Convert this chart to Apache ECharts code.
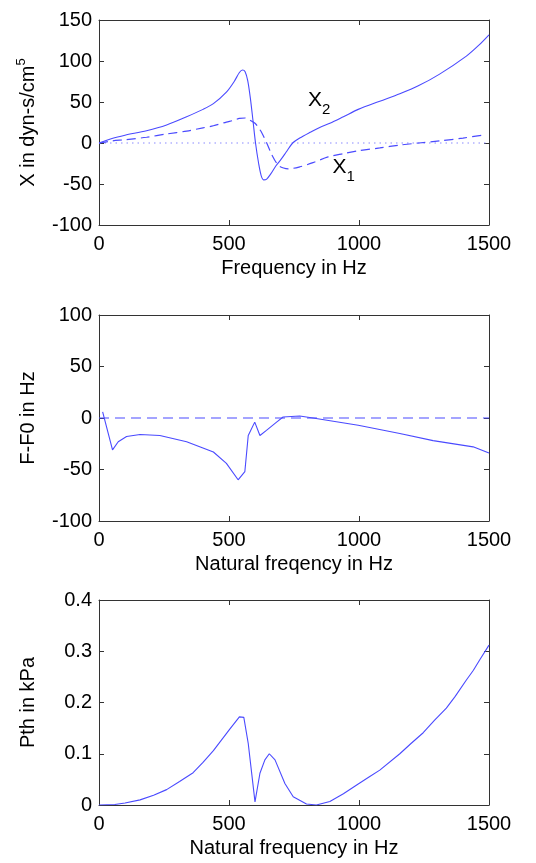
<!DOCTYPE html>
<html><head><meta charset="utf-8">
<script src="https://cdn.jsdelivr.net/npm/echarts@6/dist/echarts.min.js"></script>
<style>html,body{margin:0;padding:0;background:#fff}#c{width:536px;height:863px}</style>
</head><body><div id="c"></div>
<script>
// Panel 1: reactance X1 (dashed), X2 (solid) vs frequency
const freqX2 = [0,50,100,183,260,337,400,440,490,520,540,552,562,572,582,592,602,614,624,634,645,660,680,700,720,745,772,812,849,888,940,997,1080,1157,1230,1310,1413,1460,1500];
const valX2  = [0,5.5,9.5,15,22,32,41,48,62,75,86,89,87,76,55,28,0,-25,-40,-45,-44,-38,-28,-20,-11,0,6,13,19,24,32,41,51,60,70,84,106,119,132];
const freqX1 = [0,50,100,183,260,337,400,440,490,516,540,562,580,600,615,627,645,665,689,710,728,773,823,881,940,997,1080,1157,1230,1310,1400,1483];
const valX1  = [0,2.5,4,7,11,14.5,18.5,21,25.5,27.5,30,30.5,28,24,18,12,0,-14.5,-27,-30.5,-31.5,-29,-24,-17,-13,-9.5,-6,-2.5,0,2.5,6,10];
const zeroLine1 = [[0,0],[1500,0]];
// Panel 2: F-F0 vs natural frequency
const freqF = [14,52,74,106,158,234,337,440,490,535,561,574,599,619,644,683,708,772,823,997,1157,1285,1439,1500];
const valF  = [6,-31,-23,-18,-16,-17,-23,-33,-44,-60,-52,-17,-4,-17,-12,-4,1,2,0,-7,-15,-22,-28,-34];
const zeroLine2 = [[0,0],[1500,0]];
// Panel 3: Pth vs natural frequency
const freqP = [0,61,100,158,210,260,310,362,400,440,470,503,540,557,574,600,619,638,655,677,715,747,798,836,888,940,997,1040,1080,1157,1200,1247,1290,1336,1370,1413,1440,1464,1500];
const valP  = [0,0.001,0.004,0.01,0.019,0.03,0.046,0.063,0.083,0.106,0.126,0.148,0.172,0.171,0.12,0.006,0.062,0.088,0.1,0.088,0.042,0.016,0.002,0,0.007,0.022,0.041,0.055,0.068,0.1,0.12,0.141,0.165,0.189,0.212,0.244,0.263,0.283,0.312];

const pairs = (xs, ys) => xs.map((x,i)=>[x, ys[i]]);
const FONT = "'Liberation Sans', Arial, sans-serif";
const BLUE = '#4a4aff';
const AX = '#333';

const grids = [
  {left:99, top:20, width:390, height:205},
  {left:99, top:315, width:390, height:206},
  {left:99, top:600, width:390, height:205}
];
const xNames = ['Frequency in Hz','Natural freqency in Hz','Natural frequency in Hz'];
const yCfg = [
  {min:-100,max:150,interval:50,name:'X in dyn-s/cm{sup|5}'},
  {min:-100,max:100,interval:50,name:'F-F0 in Hz'},
  {min:0,max:0.4,interval:0.1,name:'Pth in kPa'}
];
const plain = v => String(v);

const xAxis = [], yAxis = [];
grids.forEach((g,i)=>{
  xAxis.push({type:'value', gridIndex:i, min:0, max:1500, interval:500, position:'bottom',
    axisLine:{show:true,onZero:false,lineStyle:{color:AX,width:1}},
    axisTick:{show:true,inside:true,length:5,lineStyle:{color:AX}},
    axisLabel:{color:'#000',fontSize:20,fontFamily:FONT,margin:9,formatter:plain},
    splitLine:{show:false},
    name:xNames[i], nameLocation:'middle', nameGap:33,
    nameTextStyle:{color:'#000',fontSize:20,fontFamily:FONT}});
  xAxis.push({type:'value', gridIndex:i, min:0, max:1500, interval:500, position:'top',
    axisLine:{show:true,onZero:false,lineStyle:{color:AX,width:1}},
    axisTick:{show:true,inside:true,length:5,lineStyle:{color:AX}},
    axisLabel:{show:false}, splitLine:{show:false}});
  const c = yCfg[i];
  yAxis.push({type:'value', gridIndex:i, min:c.min, max:c.max, interval:c.interval, position:'left',
    axisLine:{show:true,onZero:false,lineStyle:{color:AX,width:1}},
    axisTick:{show:true,inside:true,length:5,lineStyle:{color:AX}},
    axisLabel:{color:'#000',fontSize:20,fontFamily:FONT,margin:7,formatter:plain},
    splitLine:{show:false},
    name:c.name, nameLocation:'middle', nameGap:58,
    nameTextStyle:{color:'#000',fontSize:20,fontFamily:FONT,lineHeight:26,verticalAlign:'bottom',
      rich:{sup:{fontSize:13,fontFamily:FONT,color:'#000',verticalAlign:'top',lineHeight:13}}}});
  yAxis.push({type:'value', gridIndex:i, min:c.min, max:c.max, interval:c.interval, position:'right',
    axisLine:{show:true,onZero:false,lineStyle:{color:AX,width:1}},
    axisTick:{show:true,inside:true,length:5,lineStyle:{color:AX}},
    axisLabel:{show:false}, splitLine:{show:false}});
});

const subRich = {
  a:{fontSize:21,fontFamily:FONT,color:'#000',verticalAlign:'top',lineHeight:28},
  b:{fontSize:15,fontFamily:FONT,color:'#000',verticalAlign:'bottom',lineHeight:28}
};
const lbl = (coord, s) => ({coord:coord, symbol:'circle', symbolSize:0,
  label:{show:true, position:'inside', formatter:'{a|X}{b|'+s+'}', rich:subRich}});

const series = [
  {type:'line', name:'zero1', xAxisIndex:0, yAxisIndex:0, data:zeroLine1, showSymbol:false, silent:true,
   lineStyle:{color:'#8a8aff',width:1.2,type:[1.5,4]}},
  {type:'line', name:'X1', xAxisIndex:0, yAxisIndex:0, data:pairs(freqX1,valX1), showSymbol:false, smooth:0.3,
   lineStyle:{color:BLUE,width:1.2,type:[9,5]},
   markPoint:{data:[lbl([941,-33.9],'1')], itemStyle:{color:'transparent'}}},
  {type:'line', name:'X2', xAxisIndex:0, yAxisIndex:0, data:pairs(freqX2,valX2), showSymbol:false, smooth:0.3,
   lineStyle:{color:BLUE,width:1.1},
   markPoint:{data:[lbl([847,47.8],'2')], itemStyle:{color:'transparent'}}},
  {type:'line', name:'zero2', xAxisIndex:2, yAxisIndex:2, data:zeroLine2, showSymbol:false, silent:true,
   lineStyle:{color:BLUE,width:1.2,type:[10,6]}},
  {type:'line', name:'F-F0', xAxisIndex:2, yAxisIndex:2, data:pairs(freqF,valF), showSymbol:false,
   lineStyle:{color:BLUE,width:1.1}},
  {type:'line', name:'Pth', xAxisIndex:4, yAxisIndex:4, data:pairs(freqP,valP), showSymbol:false,
   lineStyle:{color:BLUE,width:1.1}}
];

const chart = echarts.init(document.getElementById('c'), null, {renderer:'canvas'});
chart.setOption({animation:false, backgroundColor:'#fff', textStyle:{fontFamily:FONT},
  grid:grids, xAxis:xAxis, yAxis:yAxis, series:series});
</script></body></html>
